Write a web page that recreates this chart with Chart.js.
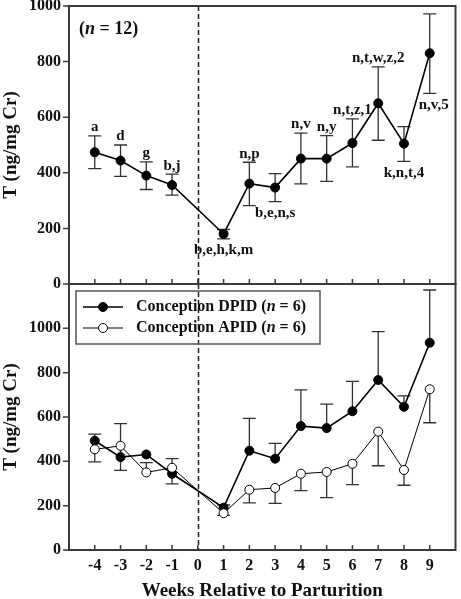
<!DOCTYPE html>
<html>
<head>
<meta charset="utf-8">
<script src="https://cdn.jsdelivr.net/npm/chart.js@4.4.1/dist/chart.umd.min.js"></script>
<style>
  html, body { margin: 0; padding: 0; background: #fff; overflow: hidden; }
  #wrap { position: relative; width: 461px; height: 599px; }
  canvas { position: absolute; left: 0; }
  #top-chart { top: 0; }
  #bottom-chart { top: 270px; }
</style>
</head>
<body>
<div id="wrap">
  <canvas id="top-chart" width="461" height="300"></canvas>
  <canvas id="bottom-chart" width="461" height="329"></canvas>
</div>
<script>
// weeks relative to parturition (no sample at week 0)
const weeks = [-4, -3, -2, -1, 1, 2, 3, 4, 5, 6, 7, 8, 9];
const xTickValues = [-4, -3, -2, -1, 0, 1, 2, 3, 4, 5, 6, 7, 8, 9];
const yTickValues = [0, 200, 400, 600, 800, 1000];

// top panel, all cows (n = 12)
const allMean  = [474, 444, 390, 356, 180, 361, 347, 451, 451, 507, 650, 505, 830];
const allUpper = [533, 500, 439, 395, 196, 438, 397, 543, 534, 594, 781, 566, 972];
const allLower = [415, 387, 340, 320, 162, 282, 296, 360, 369, 421, 517, 441, 686];
const allLetters = ['a', 'd', 'g', 'b,j', 'b,e,h,k,m', 'n,p', 'b,e,n,s', 'n,v', 'n,y', 'n,t,z,1', 'n,t,w,z,2', 'k,n,t,4', 'n,v,5'];
const letterSide = ['up', 'up', 'up', 'up', 'down', 'up', 'down', 'up', 'up', 'up', 'up', 'down', 'down'];

// bottom panel, by conception group (n = 6 each)
const dpidMean  = [493, 419, 431, 344, 191, 448, 412, 559, 550, 626, 767, 646, 935];
const dpidUpper = [523, 570, null, 412, 203, 594, 481, 722, 658, 761, 985, 695, 1173];
const apidMean  = [454, 470, 350, 371, 166, 272, 280, 344, 352, 389, 534, 361, 725];
const apidLower = [398, 359, null, 298, 156, 213, 210, 268, 236, 295, 380, 292, 574];
const apidUpper = [null, null, 394, null, null, null, null, null, null, null, null, null, null];

const FONT = '"Liberation Serif", "Times New Roman", serif';
const INK = '#111';
const FRAME = '#3a3a3a';

Chart.defaults.font.family = FONT;
Chart.defaults.color = INK;

function pts(ys) {
    return weeks.map((w, i) => ({ x: w, y: ys[i] }));
}

function richText(ctx, parts, x, y, size) {
    parts.forEach(([t, italic]) => {
        ctx.font = (italic ? 'italic ' : '') + 'bold ' + size + 'px ' + FONT;
        ctx.fillText(t, x, y);
        x += ctx.measureText(t).width;
    });
}

// frame, ticks, dashed week-0 line and error bars
function makeDecor(bars, extra) {
    return {
        id: 'decor',
        beforeDatasetsDraw(chart) {
            const { ctx, chartArea: a, scales: { x, y } } = chart;
            ctx.save();
            ctx.strokeStyle = '#222';
            ctx.lineWidth = 1.5;
            ctx.setLineDash([5, 3]);
            const x0 = Math.round(x.getPixelForValue(0)) + 0.5;
            ctx.beginPath();
            ctx.moveTo(x0, a.top);
            ctx.lineTo(x0, a.bottom);
            ctx.stroke();
            ctx.setLineDash([]);

            ctx.strokeStyle = '#333';
            ctx.lineWidth = 1.3;
            bars.forEach(b => {
                weeks.forEach((w, i) => {
                    const px = x.getPixelForValue(w);
                    const py = y.getPixelForValue(b.mean[i]);
                    [b.hi, b.lo].forEach(arr => {
                        if (!arr || arr[i] == null) return;
                        const cy = y.getPixelForValue(arr[i]);
                        ctx.beginPath();
                        ctx.moveTo(px, py);
                        ctx.lineTo(px, cy);
                        ctx.moveTo(px - 6.5, cy);
                        ctx.lineTo(px + 6.5, cy);
                        ctx.stroke();
                    });
                });
            });
            ctx.restore();
        },
        afterDraw(chart) {
            const { ctx, chartArea: a, scales: { x, y } } = chart;
            ctx.save();
            ctx.strokeStyle = FRAME;
            ctx.lineWidth = 2;
            ctx.strokeRect(a.left, a.top, a.right - a.left, a.bottom - a.top);
            ctx.lineWidth = 1.5;
            ctx.beginPath();
            yTickValues.forEach(v => {
                const py = y.getPixelForValue(v);
                ctx.moveTo(a.left - 6, py);
                ctx.lineTo(a.left, py);
            });
            xTickValues.forEach(v => {
                const px = x.getPixelForValue(v);
                ctx.moveTo(px, a.bottom);
                ctx.lineTo(px, a.bottom - 5);
            });
            ctx.stroke();
            ctx.restore();
            if (extra) extra(chart);
        }
    };
}

function topExtra(chart) {
    const { ctx, chartArea: a, scales: { x, y } } = chart;
    ctx.save();
    ctx.fillStyle = INK;
    ctx.textBaseline = 'middle';
    ctx.textAlign = 'left';
    richText(ctx, [['(', false], ['n', true], [' = 12)', false]], a.left + 10, 29, 18);

    ctx.font = 'bold 15px ' + FONT;
    ctx.textAlign = 'center';
    allLetters.forEach((t, i) => {
        const px = x.getPixelForValue(weeks[i]) + (i === weeks.length - 1 ? 4 : 0);
        if (letterSide[i] === 'up') {
            ctx.textBaseline = 'bottom';
            ctx.fillText(t, px, y.getPixelForValue(allUpper[i]) - 1);
        } else {
            ctx.textBaseline = 'top';
            ctx.fillText(t, px, y.getPixelForValue(allLower[i]) + 4);
        }
    });
    ctx.restore();
}

function bottomExtra(chart) {
    const { ctx, chartArea: a } = chart;
    const bx = a.left + 7, by = a.top + 7;
    ctx.save();
    ctx.strokeStyle = '#555';
    ctx.lineWidth = 1.5;
    ctx.strokeRect(bx, by, 244, 53);
    const rows = [chart.data.datasets[1], chart.data.datasets[0]];
    rows.forEach((ds, r) => {
        const ry = by + 16 + r * 21;
        ctx.strokeStyle = '#000';
        ctx.lineWidth = ds.borderWidth;
        ctx.beginPath();
        ctx.moveTo(bx + 7, ry);
        ctx.lineTo(bx + 47, ry);
        ctx.stroke();
        ctx.beginPath();
        ctx.arc(bx + 27, ry, 4.5, 0, Math.PI * 2);
        ctx.fillStyle = ds.pointBackgroundColor;
        ctx.fill();
        ctx.lineWidth = 1;
        ctx.stroke();
        ctx.fillStyle = INK;
        ctx.textBaseline = 'middle';
        ctx.textAlign = 'left';
        richText(ctx, [[ds.label + ' (', false], ['n', true], [' = 6)', false]], bx + 60, ry, 16);
    });
    ctx.restore();
}

const tickFont = { family: FONT, size: 16, weight: 'bold' };
const titleFont = { family: FONT, size: 19, weight: 'bold', lineHeight: 1 };

function yScale(max) {
    return {
        min: 0,
        max: max,
        ticks: {
            stepSize: 200,
            padding: 8,
            color: INK,
            font: tickFont,
            callback: v => (v > 1000 ? '' : v)
        },
        grid: { display: false, drawTicks: false },
        border: { display: false },
        title: {
            display: true,
            text: 'T (ng/mg Cr)',
            color: INK,
            font: titleFont,
            padding: { top: 1.5, bottom: 0 }
        },
        afterFit(s) {
            s.width = 69;
            s.paddingTop = 0;
            s.paddingBottom = 0;
        }
    };
}

new Chart(document.getElementById('top-chart'), {
    type: 'line',
    data: {
        datasets: [{
            label: 'All',
            data: pts(allMean),
            borderColor: '#000',
            borderWidth: 1.6,
            pointRadius: 4.5,
            pointBackgroundColor: '#000',
            pointBorderColor: '#000',
            pointBorderWidth: 1,
            tension: 0
        }]
    },
    options: {
        responsive: false,
        animation: false,
        devicePixelRatio: 1,
        layout: { padding: { top: 6, right: 1, left: 0, bottom: 0 } },
        plugins: { legend: { display: false }, tooltip: { enabled: false } },
        scales: {
            x: {
                type: 'linear',
                min: -5,
                max: 10,
                ticks: { display: false, stepSize: 1 },
                grid: { display: false, drawTicks: false },
                border: { display: false },
                afterFit(s) {
                    s.height = 16;
                    s.paddingLeft = 0;
                    s.paddingRight = 0;
                }
            },
            y: yScale(1000)
        }
    },
    plugins: [makeDecor([{ mean: allMean, hi: allUpper, lo: allLower }], topExtra)]
});

new Chart(document.getElementById('bottom-chart'), {
    type: 'line',
    data: {
        datasets: [{
            label: 'Conception APID',
            data: pts(apidMean),
            borderColor: '#000',
            borderWidth: 1,
            pointRadius: 4.5,
            pointBackgroundColor: '#fff',
            pointBorderColor: '#000',
            pointBorderWidth: 1,
            tension: 0,
            order: 0
        }, {
            label: 'Conception DPID',
            data: pts(dpidMean),
            borderColor: '#000',
            borderWidth: 1.6,
            pointRadius: 4.5,
            pointBackgroundColor: '#000',
            pointBorderColor: '#000',
            pointBorderWidth: 1,
            tension: 0,
            order: 1
        }]
    },
    options: {
        responsive: false,
        animation: false,
        devicePixelRatio: 1,
        layout: { padding: { top: 14, right: 1, left: 0, bottom: 0 } },
        plugins: { legend: { display: false }, tooltip: { enabled: false } },
        scales: {
            x: {
                type: 'linear',
                min: -5,
                max: 10,
                ticks: {
                    stepSize: 1,
                    padding: 6,
                    autoSkip: false,
                    maxRotation: 0,
                    color: INK,
                    font: tickFont,
                    callback: v => (v < -4 || v > 9 ? '' : v)
                },
                grid: { display: false, drawTicks: false },
                border: { display: false },
                title: {
                    display: true,
                    text: 'Weeks Relative to Parturition',
                    color: INK,
                    font: { family: FONT, size: 19, weight: 'bold', lineHeight: 0.84 },
                    padding: 0
                },
                afterFit(s) {
                    s.height = 49;
                    s.paddingLeft = 0;
                    s.paddingRight = 0;
                }
            },
            y: yScale(1200)
        }
    },
    plugins: [makeDecor([
        { mean: dpidMean, hi: dpidUpper, lo: null },
        { mean: apidMean, hi: apidUpper, lo: apidLower }
    ], bottomExtra)]
});
</script>
</body>
</html>
